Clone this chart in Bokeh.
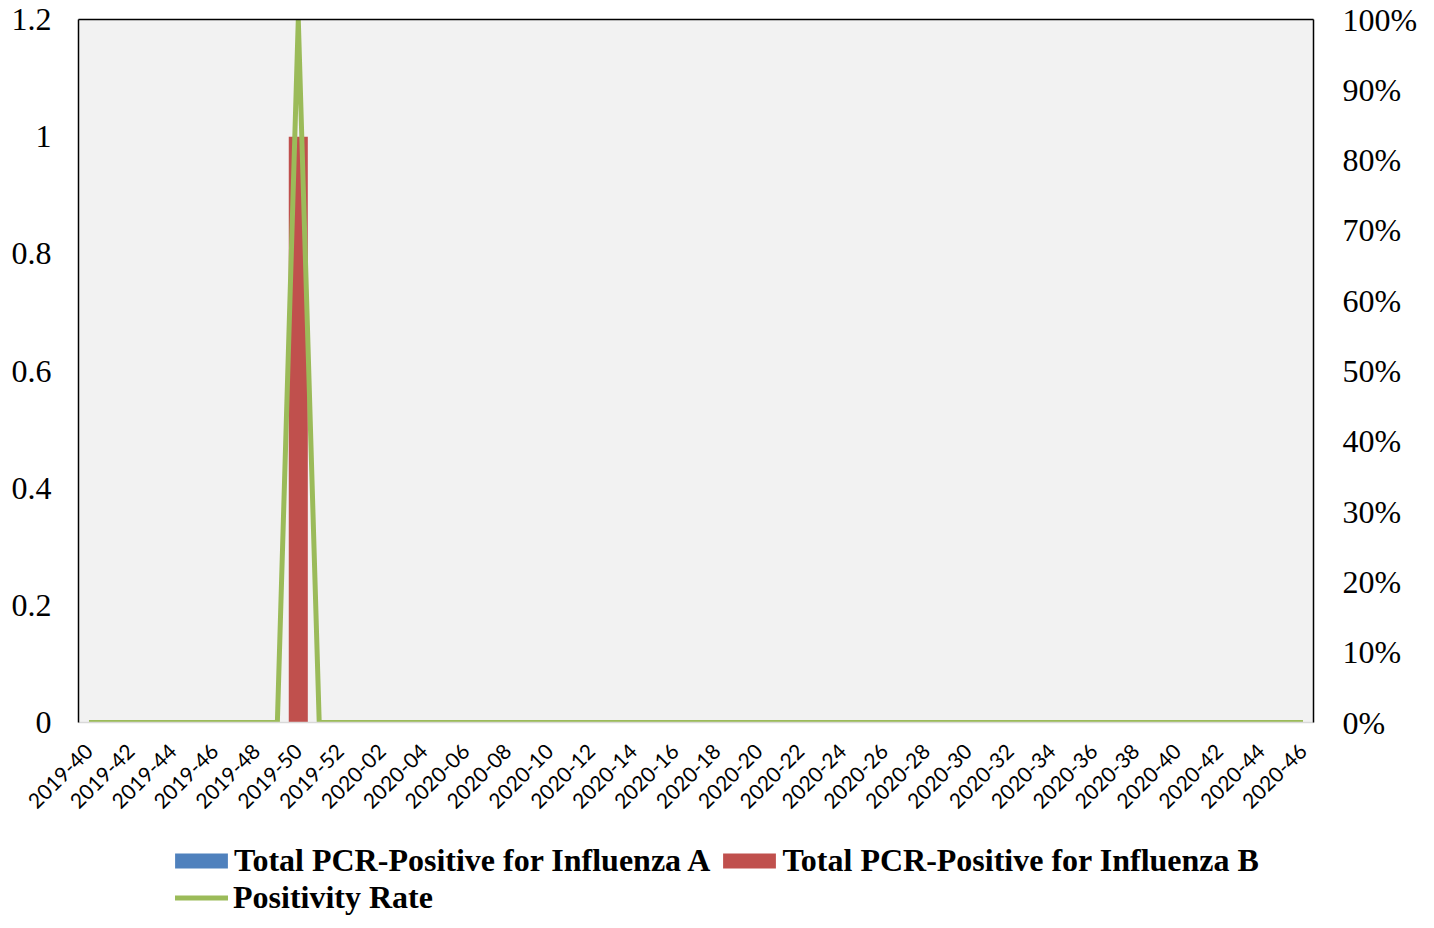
from bokeh.plotting import figure
from bokeh.models import (Range1d, LinearAxis, FixedTicker, Legend, LegendItem, ColumnDataSource)
from bokeh.layouts import column
from bokeh.embed import file_html
from bokeh.resources import INLINE
import math

weeks = ["2019-40", "2019-41", "2019-42", "2019-43", "2019-44", "2019-45", "2019-46", "2019-47",
         "2019-48", "2019-49", "2019-50", "2019-51", "2019-52",
         "2020-01", "2020-02", "2020-03", "2020-04", "2020-05", "2020-06", "2020-07", "2020-08",
         "2020-09", "2020-10", "2020-11", "2020-12", "2020-13", "2020-14", "2020-15", "2020-16",
         "2020-17", "2020-18", "2020-19", "2020-20", "2020-21", "2020-22", "2020-23", "2020-24",
         "2020-25", "2020-26", "2020-27", "2020-28", "2020-29", "2020-30", "2020-31", "2020-32",
         "2020-33", "2020-34", "2020-35", "2020-36", "2020-37", "2020-38", "2020-39", "2020-40",
         "2020-41", "2020-42", "2020-43", "2020-44", "2020-45", "2020-46"]

flu_a = [0, 0, 0, 0, 0, 0, 0, 0, 0, 0, 0, 0, 0,
         0, 0, 0, 0, 0, 0, 0, 0, 0, 0, 0, 0, 0, 0, 0, 0, 0, 0, 0, 0, 0, 0, 0, 0, 0, 0, 0, 0, 0, 0,
         0, 0, 0, 0, 0, 0, 0, 0, 0, 0, 0, 0, 0, 0, 0, 0]
flu_b = [0, 0, 0, 0, 0, 0, 0, 0, 0, 0, 1, 0, 0,
         0, 0, 0, 0, 0, 0, 0, 0, 0, 0, 0, 0, 0, 0, 0, 0, 0, 0, 0, 0, 0, 0, 0, 0, 0, 0, 0, 0, 0, 0,
         0, 0, 0, 0, 0, 0, 0, 0, 0, 0, 0, 0, 0, 0, 0, 0]
positivity = [0, 0, 0, 0, 0, 0, 0, 0, 0, 0, 1.0, 0, 0,
              0, 0, 0, 0, 0, 0, 0, 0, 0, 0, 0, 0, 0, 0, 0, 0, 0, 0, 0, 0, 0, 0, 0, 0, 0, 0, 0, 0, 0, 0,
              0, 0, 0, 0, 0, 0, 0, 0, 0, 0, 0, 0, 0, 0, 0, 0]

left_ticks = [0, 0.2, 0.4, 0.6, 0.8, 1.0, 1.2]
left_labels = ["0", "0.2", "0.4", "0.6", "0.8", "1", "1.2"]
right_ticks = [0, 0.1, 0.2, 0.3, 0.4, 0.5, 0.6, 0.7, 0.8, 0.9, 1.0]
right_labels = ["0%", "10%", "20%", "30%", "40%", "50%", "60%", "70%", "80%", "90%", "100%"]

name_a = "Total PCR-Positive for Influenza A"
name_b = "Total PCR-Positive for Influenza B"
name_rate = "Positivity Rate"

COLOR_A, COLOR_B, COLOR_RATE = "#4F81BD", "#C0504D", "#9BBB59"
serif = "Liberation Serif"

idx = list(range(len(weeks)))
src = ColumnDataSource(dict(i=idx, a=flu_a, b=flu_b, rate=positivity))

p = figure(frame_width=1235, frame_height=703,
           x_range=Range1d(-0.5, len(weeks) - 0.5), y_range=Range1d(0, 1.2),
           output_backend="svg", toolbar_location=None,
           x_axis_location=None, y_axis_location=None)
p.extra_y_ranges = {"pct": Range1d(0, 1)}
p.min_border_left = 78
p.min_border_right = 105
p.min_border_top = 19
p.min_border_bottom = 92
p.background_fill_color = "#F2F2F2"
p.border_fill_color = "white"
p.outline_line_color = None
p.xgrid.visible = False
p.ygrid.visible = False

p.vbar_stack(["a", "b"], x="i", width=0.91, source=src,
             color=[COLOR_A, COLOR_B], line_color=None)
p.line(x="i", y="rate", source=src, y_range_name="pct",
       line_color=COLOR_RATE, line_width=5)

yl = LinearAxis(ticker=FixedTicker(ticks=left_ticks),
                major_label_overrides={t: l for t, l in zip(left_ticks, left_labels)})
yl.axis_line_color = "black"
yl.axis_line_width = 1.5
yl.major_tick_line_color = None
yl.minor_tick_line_color = None
yl.major_label_text_font = serif
yl.major_label_text_font_size = "32px"
yl.major_label_text_color = "black"
yl.major_label_standoff = 21
p.add_layout(yl, "left")

yr = LinearAxis(y_range_name="pct", ticker=FixedTicker(ticks=right_ticks),
                major_label_overrides={t: l for t, l in zip(right_ticks, right_labels)})
yr.axis_line_color = "black"
yr.axis_line_width = 1.5
yr.major_tick_line_color = None
yr.minor_tick_line_color = None
yr.major_label_text_font = serif
yr.major_label_text_font_size = "32px"
yr.major_label_text_color = "black"
yr.major_label_standoff = 23
p.add_layout(yr, "right")

ta = LinearAxis(ticker=FixedTicker(ticks=[29]), major_label_overrides={29: " "})
ta.axis_line_color = "black"
ta.axis_line_width = 1.5
ta.major_tick_line_color = None
ta.minor_tick_line_color = None
ta.major_label_text_font_size = "1px"
ta.major_label_standoff = 0
p.add_layout(ta, "above")

shown = [i for i in idx if i % 2 == 0]
xa = LinearAxis(ticker=FixedTicker(ticks=shown),
                major_label_overrides={i: weeks[i] for i in shown})
xa.axis_line_color = "#D9D9D9"
xa.axis_line_width = 1.5
xa.major_tick_line_color = None
xa.minor_tick_line_color = None
xa.major_label_orientation = math.pi / 4
xa.major_label_text_font = "Lato"
xa.major_label_text_font_size = "21px"
xa.major_label_text_color = "black"
xa.major_label_standoff = 19
p.add_layout(xa, "below")

# legend panel (frames are aligned by the column layout)
lg = figure(width=1418, height=98, x_range=Range1d(0, 1), y_range=Range1d(0, 1),
            output_backend="svg", toolbar_location=None,
            x_axis_location=None, y_axis_location=None)
lg.min_border = 0
lg.outline_line_color = None
lg.xgrid.visible = False
lg.ygrid.visible = False
lg.background_fill_color = "white"
lg.border_fill_color = "white"
hidden = ColumnDataSource(dict(x=[0.5, 0.6], y0=[2, 2], y1=[3, 3]))
ra = lg.vbar(x="x", bottom="y0", top="y0", width=0, source=hidden, color=COLOR_A, line_color=None)
rb = lg.vbar(x="x", bottom="y0", top="y0", width=0, source=hidden, color=COLOR_B, line_color=None)
rl = lg.line(x="x", y="y1", source=hidden, line_color=COLOR_RATE, line_width=5, line_cap="round")


def style(leg):
    leg.label_text_font = serif
    leg.label_text_font_style = "bold"
    leg.label_text_font_size = "32px"
    leg.label_text_color = "black"
    leg.label_height = 30
    leg.padding = 0
    leg.margin = 0
    leg.border_line_color = None
    leg.background_fill_alpha = 0


leg1 = Legend(items=[LegendItem(label=name_a, renderers=[ra]),
                     LegendItem(label=name_b, renderers=[rb])],
              orientation="horizontal", location=(90, 37))
style(leg1)
leg1.glyph_width = 66
leg1.glyph_height = 19
leg1.label_standoff = 0
leg1.spacing = 6
lg.add_layout(leg1, "center")

leg2 = Legend(items=[LegendItem(label=name_rate, renderers=[rl])],
              orientation="horizontal", location=(97, 0))
style(leg2)
leg2.glyph_width = 53
leg2.glyph_height = 19
leg2.label_standoff = 5
leg2.spacing = 6
lg.add_layout(leg2, "center")

open("out.html", "w").write(file_html(column(p, lg, spacing=0), INLINE))
